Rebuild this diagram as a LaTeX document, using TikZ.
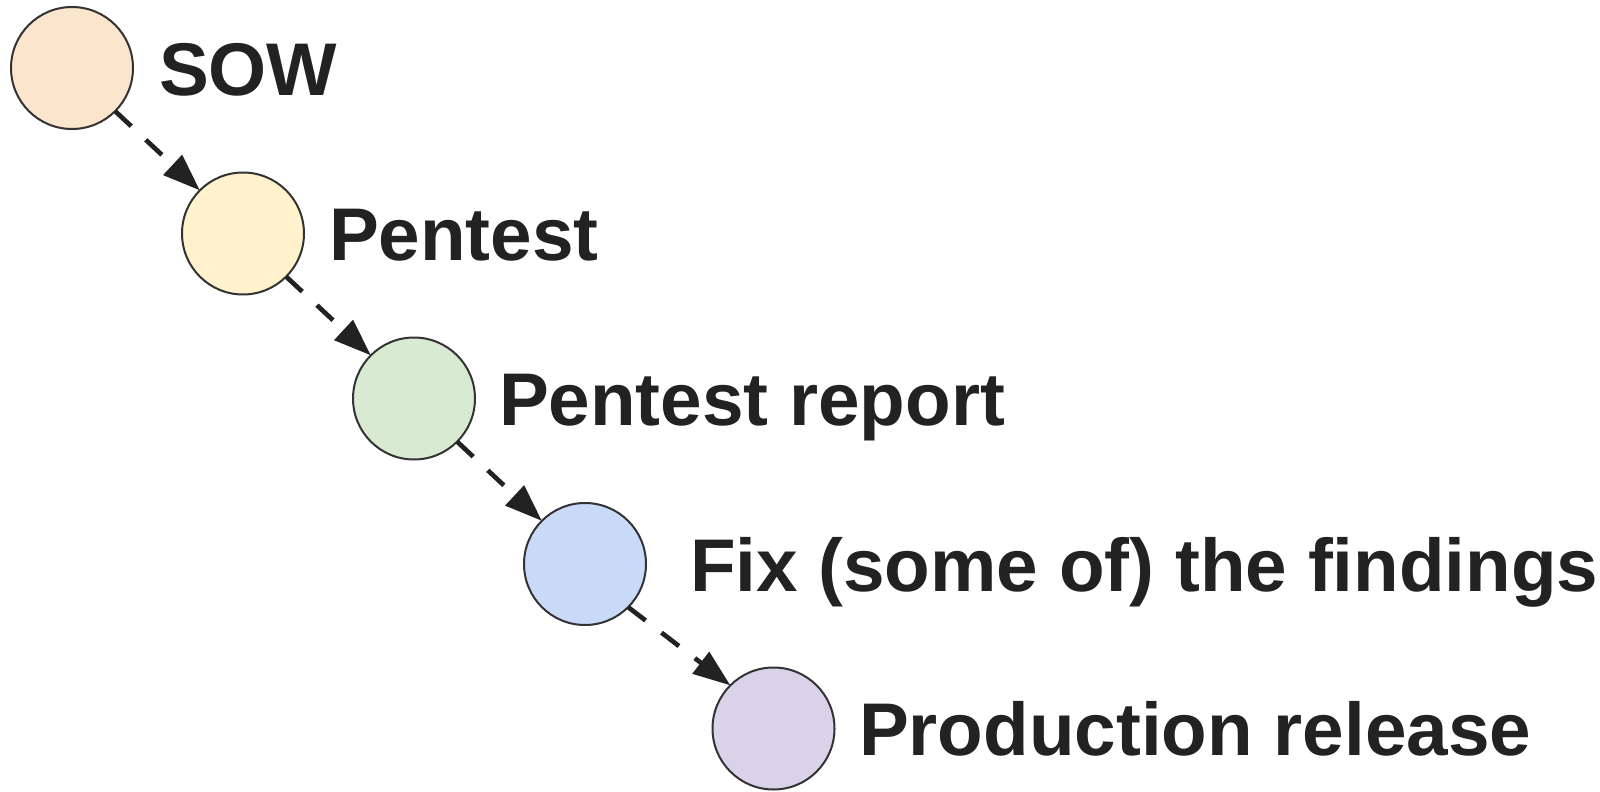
\documentclass[tikz,border=0pt]{standalone}
\usepackage{fontspec}
\setmainfont{Liberation Sans}
\usetikzlibrary{arrows.meta}
\definecolor{inkdark}{HTML}{222222}
\definecolor{rimgray}{HTML}{333333}
\definecolor{fillorange}{HTML}{FCE5CD}
\definecolor{fillyellow}{HTML}{FFF2CC}
\definecolor{fillgreen}{HTML}{D9EAD3}
\definecolor{fillblue}{HTML}{C9DAF8}
\definecolor{fillpurple}{HTML}{D9D2E9}
\tikzset{
  stagedot/.style={circle, draw=rimgray, line width=1.5pt, minimum size=91.5pt,
    inner sep=0pt, outer sep=0pt},
  stagelabel/.style={anchor=base west, inner sep=0pt, outer sep=0pt, text=inkdark,
    font=\fontsize{56pt}{60pt}\selectfont\bfseries},
  flow/.style={draw=inkdark, line width=3.5pt, dash pattern=on 16.5pt off 15pt,
    -{Triangle[length=28pt, width=20pt]}}
}
\begin{document}
\begin{tikzpicture}[x=0.75pt, y=-0.75pt]
  \useasboundingbox (0,0) rectangle (1600,792);

  % process stages
  \node[stagedot, fill=fillorange] (sow) at (72,68) {};
  \node[stagedot, fill=fillyellow] (pentest) at (243,233.5) {};
  \node[stagedot, fill=fillgreen] (report) at (414,398.5) {};
  \node[stagedot, fill=fillblue] (fix) at (585,564) {};
  \node[stagedot, fill=fillpurple] (release) at (773.5,728.5) {};

  % stage names
  \node[stagelabel] (sowtext) at (159,95) {SOW};
  \node[stagelabel] (pentesttext) at (329,260.5) {Pentest};
  \node[stagelabel] (reporttext) at (499,425.5) {Pentest report};
  \node[stagelabel] (fixtext) at (690,591) {Fix (some of) the findings};
  \node[stagelabel] (releasetext) at (859,755.5) {Production release};

  % dashed flow between stages
  \draw[flow] (sow.-45) -- (pentest.135);
  \draw[flow] (pentest.-45) -- (report.135);
  \draw[flow] (report.-45) -- (fix.135);
  \draw[flow] (fix.-45) -- (release.135);
\end{tikzpicture}
\end{document}
